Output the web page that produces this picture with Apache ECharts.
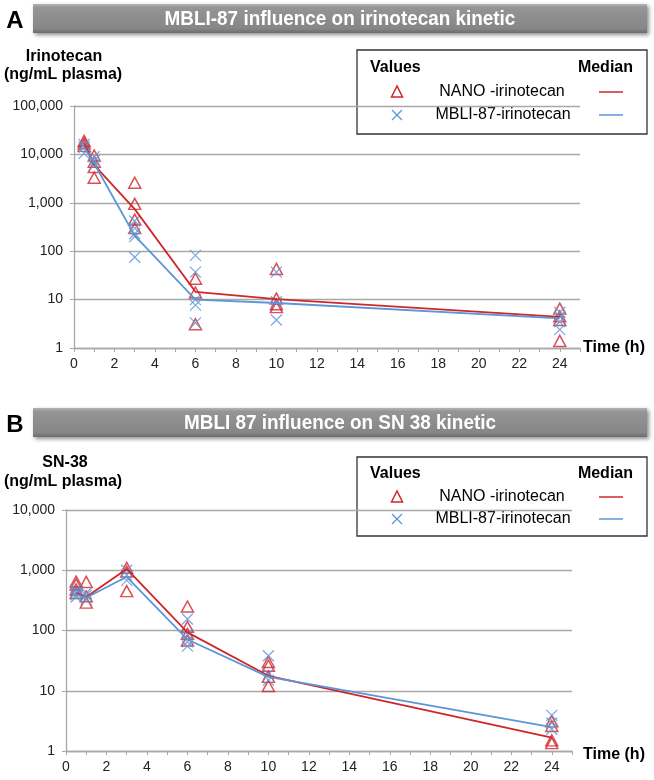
<!DOCTYPE html>
<html>
<head>
<meta charset="utf-8">
<script src="https://cdn.jsdelivr.net/npm/echarts@6/dist/echarts.min.js"></script>
<style>
  html, body { margin: 0; padding: 0; background: #fff; }
  #main { width: 654px; height: 780px; }
</style>
</head>
<body>
<div id="main"></div>
<script>
// sampling times (h)
var times = [0.5, 1, 3, 6, 10, 24];

// panel A - irinotecan (ng/mL plasma), individual values per time point
var irinoNano = [
    [19000, 17000, 15000],
    [9500, 7000, 5500, 3300],
    [2600, 950, 450, 300],
    [27, 14, 3.1],
    [43, 10.5, 8, 7],
    [6.5, 4.5, 3.8, 1.4]
];
var irinoMbli = [
    [16000, 14000, 10500],
    [9000, 7500, 6000],
    [420, 300, 230, 200, 75],
    [82, 37, 10, 7.7, 3.3],
    [37, 9, 3.8],
    [5.5, 4.5, 3.5, 2.4]
];
var irinoNanoMedian = [17000, 6000, 740, 14.5, 10.2, 4.4];
var irinoMbliMedian = [14000, 6500, 210, 10, 8.5, 4.1];

// panel B - SN-38 (ng/mL plasma)
var snNano = [
    [650, 580, 480, 420],
    [640, 370, 290],
    [1100, 950, 450],
    [250, 115, 88, 68],
    [30, 26, 17, 12],
    [3.1, 2.6, 1.5, 1.35]
];
var snMbli = [
    [480, 430, 390, 360],
    [420, 380, 330],
    [1000, 830, 680],
    [155, 85, 65, 55],
    [38, 19, 15],
    [3.9, 2.9, 2.3]
];
var snNanoMedian = [420, 360, 1050, 93, 17.7, 1.66];
var snMbliMedian = [400, 350, 780, 71, 17, 2.5];

var RED = '#d0262b';
var BLUE = '#5b96d8';
var GRID_GRAY = '#a8a8a8';
var FONT = "'Liberation Sans', Arial, sans-serif";
var CROSS = 'path://M0,0L10,10M10,0L0,10';

function points(groups) {
    var out = [];
    for (var i = 0; i < groups.length; i++) {
        for (var j = 0; j < groups[i].length; j++) {
            out.push([times[i], groups[i][j]]);
        }
    }
    return out;
}
function medianLine(vals) {
    return times.map(function (t, i) { return [t, vals[i]]; });
}

function xAxisOf(gridIndex) {
    return {
        gridIndex: gridIndex, type: 'value', min: 0, max: 25, interval: 1,
        axisLine: { lineStyle: { color: GRID_GRAY, width: 1.3 } },
        axisTick: { show: true, length: 4, lineStyle: { color: GRID_GRAY } },
        axisLabel: {
            margin: 9, color: '#222', fontSize: 14, fontFamily: FONT,
            formatter: function (v) { return v % 2 ? '' : String(v); }
        },
        splitLine: { show: false }
    };
}
function yAxisOf(gridIndex, max, split) {
    return {
        gridIndex: gridIndex, type: 'log', logBase: 10, min: 1, max: max, splitNumber: split,
        axisLine: { show: true, lineStyle: { color: GRID_GRAY, width: 1.3 } },
        axisTick: { show: true, length: 4, lineStyle: { color: GRID_GRAY } },
        axisLabel: {
            margin: 11, color: '#222', fontSize: 14, fontFamily: FONT,
            formatter: function (v) { return Math.round(v).toLocaleString('en-US'); }
        },
        splitLine: { show: true, lineStyle: { color: GRID_GRAY, width: 1.3 } }
    };
}

function titleBar(top, letter, text) {
    return {
        type: 'group',
        children: [
            {
                type: 'rect', shape: { x: 33, y: top, width: 614, height: 29 },
                style: {
                    fill: new echarts.graphic.LinearGradient(0, 0, 0, 1, [
                        { offset: 0, color: '#b4b4b4' },
                        { offset: 0.12, color: '#959595' },
                        { offset: 0.85, color: '#868686' },
                        { offset: 1, color: '#6c6c6c' }
                    ]),
                    shadowBlur: 4, shadowOffsetX: 2, shadowOffsetY: 2,
                    shadowColor: 'rgba(0,0,0,0.45)'
                }
            },
            {
                // narrow bold face, imitated by squeezing the regular bold one
                type: 'text', x: 340, y: top + 15, scaleX: 0.9,
                style: {
                    text: text, fill: '#fff', font: 'bold 21px ' + FONT,
                    align: 'center', verticalAlign: 'middle'
                }
            },
            {
                type: 'text', x: 15, y: top + 17,
                style: {
                    text: letter, fill: '#000', font: 'bold 24px ' + FONT,
                    align: 'center', verticalAlign: 'middle'
                }
            }
        ]
    };
}

function legendBox(top, height, rowVals, row1, row2) {
    var txt = function (x, y, s, align, bold) {
        return {
            type: 'text', x: x, y: y,
            style: {
                text: s, fill: '#000', font: (bold ? 'bold ' : '') + '16px ' + FONT,
                align: align, verticalAlign: 'middle'
            }
        };
    };
    return {
        type: 'group',
        children: [
            {
                type: 'rect', shape: { x: 357, y: top, width: 290, height: height },
                style: { fill: '#fff', stroke: '#333', lineWidth: 1.3 }
            },
            txt(370, rowVals, 'Values', 'left', true),
            txt(633, rowVals, 'Median', 'right', true),
            {
                type: 'polygon',
                shape: { points: [[397, row1 - 6], [391.5, row1 + 5], [402.5, row1 + 5]] },
                style: { fill: 'none', stroke: RED, lineWidth: 1.5 }
            },
            txt(502, row1, 'NANO -irinotecan', 'center', false),
            {
                type: 'line', shape: { x1: 599, y1: row1, x2: 623, y2: row1 },
                style: { stroke: RED, lineWidth: 1.5 }
            },
            {
                type: 'line', shape: { x1: 392, y1: row2 - 5, x2: 402, y2: row2 + 5 },
                style: { stroke: BLUE, lineWidth: 1.3 }
            },
            {
                type: 'line', shape: { x1: 402, y1: row2 - 5, x2: 392, y2: row2 + 5 },
                style: { stroke: BLUE, lineWidth: 1.3 }
            },
            txt(503, row2, 'MBLI-87-irinotecan', 'center', false),
            {
                type: 'line', shape: { x1: 599, y1: row2, x2: 623, y2: row2 },
                style: { stroke: BLUE, lineWidth: 1.5 }
            }
        ]
    };
}

function plainText(x, y, s, bold) {
    return {
        type: 'text', x: x, y: y,
        style: {
            text: s, fill: '#000', font: (bold ? 'bold ' : '') + '16px ' + FONT,
            align: 'center', verticalAlign: 'middle'
        }
    };
}

function scatterSeries(idx, data, isNano) {
    return {
        type: 'scatter', xAxisIndex: idx, yAxisIndex: idx, data: data,
        symbol: isNano ? 'triangle' : CROSS,
        symbolSize: isNano ? [12, 11] : 11,
        itemStyle: isNano
            ? { color: 'rgba(255,255,255,0)', borderColor: RED, borderWidth: 1.5 }
            : { color: 'rgba(255,255,255,0)', borderColor: BLUE, borderWidth: 1.3 },
        z: 3
    };
}
function lineSeries(idx, data, color) {
    return {
        type: 'line', xAxisIndex: idx, yAxisIndex: idx, data: data,
        showSymbol: false, lineStyle: { color: color, width: 1.8 }, z: 4
    };
}

var chart = echarts.init(document.getElementById('main'));
chart.setOption({
    animation: false,
    backgroundColor: '#fff',
    grid: [
        { left: 74, top: 106, width: 506, height: 242 },
        { left: 66, top: 510, width: 506, height: 241 }
    ],
    xAxis: [xAxisOf(0), xAxisOf(1)],
    yAxis: [yAxisOf(0, 100000, 5), yAxisOf(1, 10000, 4)],
    series: [
        scatterSeries(0, points(irinoNano), true),
        scatterSeries(0, points(irinoMbli), false),
        lineSeries(0, medianLine(irinoNanoMedian), RED),
        lineSeries(0, medianLine(irinoMbliMedian), BLUE),
        scatterSeries(1, points(snNano), true),
        scatterSeries(1, points(snMbli), false),
        lineSeries(1, medianLine(snNanoMedian), RED),
        lineSeries(1, medianLine(snMbliMedian), BLUE)
    ],
    graphic: [
        titleBar(4, 'A', 'MBLI-87 influence on irinotecan kinetic'),
        titleBar(408, 'B', 'MBLI 87 influence on SN 38 kinetic'),
        plainText(64, 57, 'Irinotecan', true),
        plainText(63, 75, '(ng/mL plasma)', true),
        plainText(65, 463, 'SN-38', true),
        plainText(63, 482, '(ng/mL plasma)', true),
        plainText(614, 348, 'Time (h)', true),
        plainText(614, 755, 'Time (h)', true),
        legendBox(50, 84, 68, 92, 115),
        legendBox(457, 79, 474, 497, 519)
    ]
});
</script>
</body>
</html>
